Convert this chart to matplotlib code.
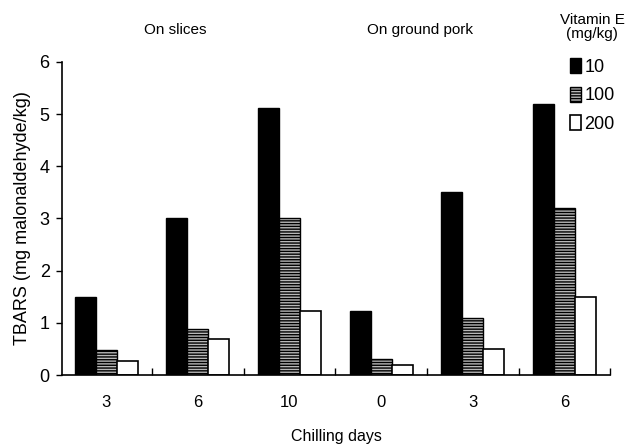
import matplotlib.pyplot as plt
import numpy as np
from matplotlib.ticker import FixedLocator

plt.rcParams['font.family'] = ['Liberation Sans', 'DejaVu Sans']

days = ['3', '6', '10', '0', '3', '6']
vit10 = [1.5, 3.0, 5.12, 1.22, 3.5, 5.2]
vit100 = [0.48, 0.88, 3.0, 0.3, 1.1, 3.2]
vit200 = [0.28, 0.7, 1.22, 0.2, 0.5, 1.5]
doses = ['10', '100', '200']

x = np.arange(len(days))
w = 0.23

fig, ax = plt.subplots(figsize=(6.35, 4.45), dpi=100)
fig.subplots_adjust(left=0.098, right=0.961, bottom=0.157, top=0.861)

b1 = ax.bar(x - w, vit10, w, color='black', edgecolor='black', linewidth=1)
b2 = ax.bar(x, vit100, w, color='#b8b8b8', edgecolor='black', linewidth=1,
            hatch='------')
b3 = ax.bar(x + w, vit200, w, color='white', edgecolor='black', linewidth=1.2)

ax.set_xlim(-0.48, 5.5)
ax.set_ylim(0, 6)
ax.set_xticks(x)
ax.set_xticklabels(days, fontsize=12)
ax.tick_params(axis='x', length=0, pad=14)
# small upward ticks between the groups
ax.xaxis.set_minor_locator(FixedLocator(list(x + 0.5)))
ax.tick_params(axis='x', which='minor', direction='in', length=5, width=1)
ax.set_yticks(range(7))
ax.tick_params(axis='y', labelsize=13, direction='out', length=4, width=1, pad=5)
for s in ['top', 'right']:
    ax.spines[s].set_visible(False)
ax.spines['left'].set_linewidth(1.2)
ax.spines['bottom'].set_linewidth(1.2)

ax.set_ylabel('TBARS (mg malonaldehyde/kg)', fontsize=13, labelpad=6)
ax.set_xlabel('Chilling days', fontsize=11.5, labelpad=14)

fig.text(175 / 635, 1 - 30 / 445, 'On slices', ha='center', va='center', fontsize=11)
fig.text(420 / 635, 1 - 30 / 445, 'On ground pork', ha='center', va='center', fontsize=11)
fig.text(592 / 635, 1 - 27 / 445, 'Vitamin E\n(mg/kg)', ha='center', va='center',
         fontsize=11, linespacing=1.0)

ax.legend([b1, b2, b3], doses, loc='upper left', bbox_to_anchor=(570 / 635, 1 - 58 / 445),
          bbox_transform=fig.transFigure, frameon=False, fontsize=13,
          handlelength=0.6, handleheight=0.9, handletextpad=0.2, labelspacing=0.6,
          borderpad=0, borderaxespad=0)

fig.savefig('out.png', dpi=100)
